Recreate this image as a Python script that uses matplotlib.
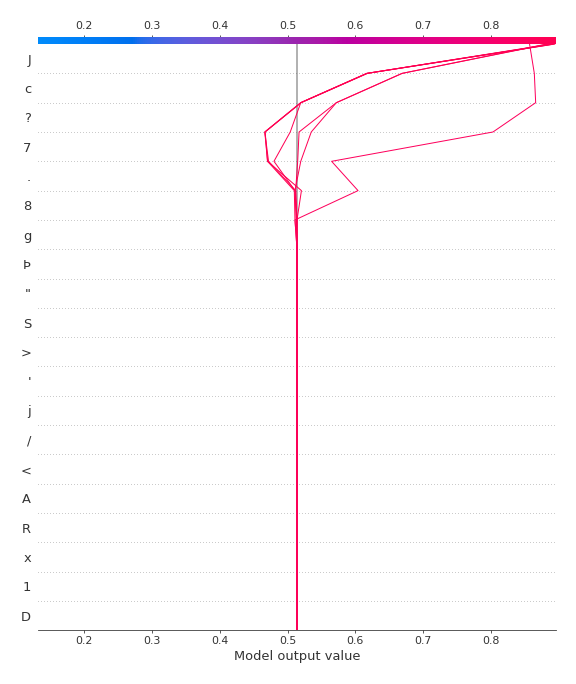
import numpy as np
import matplotlib
matplotlib.use("Agg")
import matplotlib.pyplot as plt
from matplotlib.colors import LinearSegmentedColormap, Normalize
from matplotlib.cm import ScalarMappable

# ---------------- data ----------------
feature_names = ["J", "c", "?", "7", ".", "8", "g", "Þ", "\"", "S",
                 ">", "'", "j", "/", "<", "A", "R", "x", "1", "D"]  # top -> bottom
base_value = 0.514
xlim = (0.132, 0.896)

# cumulative model output after each of the top features (from g up to J);
# all features below contribute nothing, so paths sit at base value there.
path_g = [0.511, 0.513, 0.514, 0.513, 0.514, 0.514, 0.511]
path_8 = [0.510, 0.512, 0.5205, 0.511, 0.512, 0.511, 0.604]
path_dot = [0.4705, 0.472, 0.4705, 0.480, 0.515, 0.5195, 0.565]
path_7 = [0.4665, 0.4665, 0.467, 0.504, 0.517, 0.535, 0.803]
path_q = [0.5195, 0.5195, 0.520, 0.5195, 0.572, 0.572, 0.866]
path_c = [0.617, 0.617, 0.618, 0.617, 0.669, 0.669, 0.864]
path_J = [0.893, 0.891, 0.894, 0.889, 0.882, 0.884, 0.857]

xticks = [0.2, 0.3, 0.4, 0.5, 0.6, 0.7, 0.8]


# ---------------- shap red-blue colormap ----------------
def lab2rgb(lab):
    L, a, b = lab
    fy = (L + 16.0) / 116.0
    fx = fy + a / 500.0
    fz = fy - b / 200.0

    def finv(t):
        return t ** 3 if t > 6.0 / 29 else 3 * (6.0 / 29) ** 2 * (t - 4.0 / 29)

    X = 0.95047 * finv(fx)
    Y = 1.0 * finv(fy)
    Z = 1.08883 * finv(fz)
    M = np.array([[3.2404542, -1.5371385, -0.4985314],
                  [-0.9692660, 1.8760108, 0.0415560],
                  [0.0556434, -0.2040259, 1.0572252]])
    rgb = M @ np.array([X, Y, Z])
    out = np.where(rgb > 0.0031308, 1.055 * np.power(np.clip(rgb, 1e-12, None), 1 / 2.4) - 0.055, 12.92 * rgb)
    return np.clip(out, 0, 1)


def make_red_blue():
    blue_lch = [54.0, 70.0, 4.6588]
    l_mid = 40.0
    red_lch = [54.0, 90.0, 0.35470565 + 2 * np.pi]
    nsteps = 100
    l_vals = list(np.linspace(blue_lch[0], l_mid, nsteps // 2)) + list(np.linspace(l_mid, red_lch[0], nsteps // 2))
    c_vals = np.linspace(blue_lch[1], red_lch[1], nsteps)
    h_vals = np.linspace(blue_lch[2], red_lch[2], nsteps)
    cols = []
    for l, c, h in zip(l_vals, c_vals, h_vals):
        cols.append(lab2rgb([l, c * np.cos(h), c * np.sin(h)]))
    return LinearSegmentedColormap.from_list("red_blue", cols)


cmap = make_red_blue()

# ---------------- build paths ----------------
n_feat = len(feature_names)
top_paths = np.array([path_g, path_8, path_dot, path_7, path_q, path_c, path_J]).T  # (n_obs, 7)
n_obs = top_paths.shape[0]
n_zero = n_feat - top_paths.shape[1] + 1  # y positions 0..n_zero-1 at base value
y_pos = np.arange(0, n_feat + 1)

fig = plt.figure(figsize=(8, 9.5), dpi=72)
ax = fig.add_axes([0.066, 0.0785, 0.8993, 0.8678])

ax.axvline(x=base_value, color="#999999", zorder=-1)
for i in range(1, n_feat):
    ax.axhline(y=i, color="#333333", lw=0.5, dashes=(1, 5), zorder=-1)

norm = Normalize(vmin=xlim[0], vmax=xlim[1])
for k in range(n_obs):
    xs = np.concatenate([np.full(n_zero, base_value), top_paths[k]])
    ax.plot(xs, y_pos, color=cmap(norm(xs[-1])), linewidth=1)

ax.set_xlim(xlim)
ax.set_ylim(0, n_feat + 0.25)

# colour bar on top
ax_cb = ax.inset_axes([xlim[0], n_feat, xlim[1] - xlim[0], 0.25], transform=ax.transData)
m = ScalarMappable(cmap=cmap)
m.set_array(np.array([0, 1]))
cb = fig.colorbar(m, cax=ax_cb, orientation="horizontal")
cb.set_ticks([])
cb.ax.tick_params(length=0)
cb.outline.set_visible(False)

ax.xaxis.set_ticks_position("both")
ax.yaxis.set_ticks_position("none")
for s in ["right", "left", "top"]:
    ax.spines[s].set_visible(False)
ax.spines["bottom"].set_color("#333333")
ax.set_xticks(xticks)
ax.set_xticklabels([f"{t:.1f}" for t in xticks])
ax.tick_params(axis="x", colors="#333333", labelcolor="#333333", labeltop=True, labelsize=11, length=2.5)
ax.set_yticks(np.arange(n_feat) + 0.5)
ax.set_yticklabels(feature_names[::-1], fontsize=13, color="#333333")
ax.set_xlabel("Model output value", fontsize=13, color="#333333")

fig.savefig("out.png", dpi=72)
